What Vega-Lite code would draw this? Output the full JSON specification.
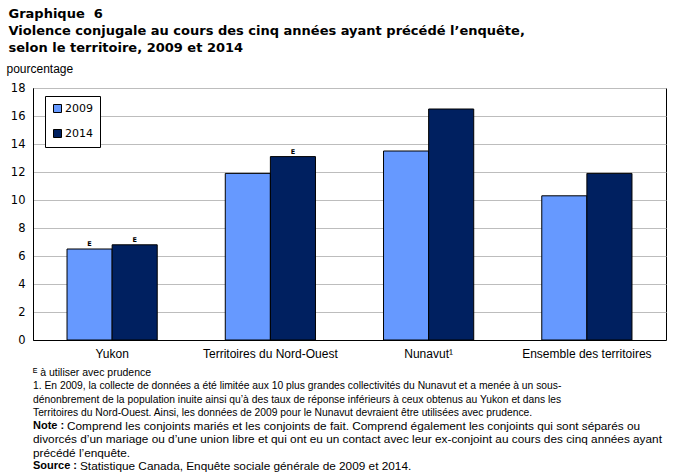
{
  "$schema": "https://vega.github.io/schema/vega-lite/v6.json",
  "background": "white",
  "padding": {"left": 5, "top": 7, "right": 5, "bottom": 2},
  "title": {
    "text": ["Graphique\u00a0 6", "Violence conjugale au cours des cinq années ayant précédé l’enquête,", "selon le territoire, 2009 et 2014"],
    "anchor": "start",
    "font": "DejaVu Sans",
    "fontSize": 13,
    "fontWeight": "bold",
    "color": "black",
    "lineHeight": 17,
    "offset": 7,
    "dx": 3
  },
  "spacing": 8,
  "vconcat": [
    {
      "width": 633,
      "height": 252,
      "view": {"stroke": "black", "strokeWidth": 1},
      "data": {
        "values": [
          {"territoire": "Yukon", "annee": "2009", "valeur": 6.5, "flag": "E"},
          {"territoire": "Yukon", "annee": "2014", "valeur": 6.8, "flag": "E"},
          {"territoire": "Territoires du Nord-Ouest", "annee": "2009", "valeur": 11.9, "flag": ""},
          {"territoire": "Territoires du Nord-Ouest", "annee": "2014", "valeur": 13.1, "flag": "E"},
          {"territoire": "Nunavut¹", "annee": "2009", "valeur": 13.5, "flag": ""},
          {"territoire": "Nunavut¹", "annee": "2014", "valeur": 16.5, "flag": ""},
          {"territoire": "Ensemble des territoires", "annee": "2009", "valeur": 10.3, "flag": ""},
          {"territoire": "Ensemble des territoires", "annee": "2014", "valeur": 11.9, "flag": ""}
        ]
      },
      "encoding": {
        "x": {
          "field": "territoire",
          "type": "nominal",
          "sort": ["Yukon", "Territoires du Nord-Ouest", "Nunavut¹", "Ensemble des territoires"],
          "scale": {"paddingInner": 0.43, "paddingOuter": 0.215},
          "axis": {
            "title": null,
            "labelAngle": 0,
            "ticks": false,
            "labelPadding": 8,
            "labelFont": "Liberation Sans",
            "labelFontSize": 12,
            "labelColor": "black",
            "domainColor": "black",
            "grid": false
          }
        },
        "xOffset": {"field": "annee", "type": "nominal", "scale": {"paddingInner": 0, "paddingOuter": 0}},
        "y": {
          "field": "valeur",
          "type": "quantitative",
          "scale": {"domain": [0, 18]},
          "axis": {
            "values": [0, 2, 4, 6, 8, 10, 12, 14, 16, 18],
            "title": "pourcentage",
            "titleAngle": 0,
            "titleAlign": "left",
            "titleBaseline": "middle",
            "titleX": -27,
            "titleY": -20,
            "titleFont": "Liberation Sans",
            "titleFontSize": 12,
            "titleFontWeight": "normal",
            "titleColor": "black",
            "ticks": false,
            "labelPadding": 8,
            "labelFont": "DejaVu Sans",
            "labelFontSize": 11.5,
            "labelColor": "black",
            "domainColor": "black",
            "grid": true,
            "gridColor": "#bdbdbd",
            "gridWidth": 1
          }
        }
      },
      "layer": [
        {
          "mark": {"type": "bar", "stroke": "black", "strokeWidth": 1},
          "encoding": {
            "color": {
              "field": "annee",
              "type": "nominal",
              "scale": {"domain": ["2009", "2014"], "range": ["#6699FF", "#002060"]},
              "legend": {
                "title": null,
                "orient": "none",
                "legendX": 12,
                "legendY": 8,
                "strokeColor": "black",
                "fillColor": "white",
                "padding": 7,
                "rowPadding": 12,
                "symbolType": "square",
                "symbolSize": 64,
                "symbolStrokeColor": "black",
                "symbolStrokeWidth": 1,
                "symbolOpacity": 1,
                "labelFont": "DejaVu Sans",
                "labelFontSize": 11,
                "labelColor": "black",
                "labelOffset": 2
              }
            }
          }
        },
        {
          "transform": [{"filter": "datum.flag != ''"}],
          "mark": {"type": "text", "font": "DejaVu Sans", "fontSize": 6.5, "fontWeight": "bold", "baseline": "bottom", "dy": -2, "color": "black"},
          "encoding": {"text": {"field": "flag"}}
        }
      ]
    },
    {
      "width": 600,
      "height": 93,
      "view": {"stroke": null},
      "data": {
        "values": [
          {"ligne": 1, "prefixe": "", "texte": "ᴱ à utiliser avec prudence"},
          {"ligne": 2, "prefixe": "", "texte": "1. En 2009, la collecte de données a été limitée aux 10 plus grandes collectivités du Nunavut et a menée à un sous-"},
          {"ligne": 3, "prefixe": "", "texte": "dénonbrement de la population inuite ainsi qu’à des taux de réponse inférieurs à ceux obtenus au Yukon et dans les"},
          {"ligne": 4, "prefixe": "", "texte": "Territoires du Nord-Ouest. Ainsi, les données de 2009 pour le Nunavut devraient être utilisées avec prudence."},
          {"ligne": 5, "prefixe": "Note :", "texte": "Comprend les conjoints mariés et les conjoints de fait. Comprend également les conjoints qui sont séparés ou"},
          {"ligne": 6, "prefixe": "", "texte": "divorcés d’un mariage ou d’une union libre et qui ont eu un contact avec leur ex-conjoint au cours des cinq années ayant"},
          {"ligne": 7, "prefixe": "", "texte": "précédé l’enquête."},
          {"ligne": 8, "prefixe": "Source :", "texte": "Statistique Canada, Enquête sociale générale de 2009 et 2014."}
        ]
      },
      "encoding": {
        "y": {"field": "ligne", "type": "ordinal", "scale": {"type": "point", "padding": 0}, "axis": null},
        "x": {"value": 0}
      },
      "layer": [
        {
          "transform": [{"filter": "datum.ligne == 1"}],
          "mark": {"type": "text", "align": "left", "baseline": "middle", "font": "Liberation Sans", "fontSize": 10.5, "color": "black"},
          "encoding": {"text": {"field": "texte"}}
        },
        {
          "transform": [{"filter": "datum.ligne >= 2 && datum.ligne <= 4"}],
          "mark": {"type": "text", "align": "left", "baseline": "middle", "font": "Liberation Sans", "fontSize": 10.3, "color": "black"},
          "encoding": {"text": {"field": "texte"}}
        },
        {
          "transform": [{"filter": "datum.ligne >= 5 && datum.prefixe == ''"}],
          "mark": {"type": "text", "align": "left", "baseline": "middle", "font": "Liberation Sans", "fontSize": 11.8, "color": "black"},
          "encoding": {"text": {"field": "texte"}}
        },
        {
          "transform": [{"filter": "datum.prefixe != ''"}],
          "mark": {"type": "text", "align": "left", "baseline": "middle", "font": "Liberation Sans", "fontSize": 11, "fontWeight": "bold", "color": "black"},
          "encoding": {"text": {"field": "prefixe"}}
        },
        {
          "transform": [{"filter": "datum.prefixe == 'Note :'"}],
          "mark": {"type": "text", "align": "left", "baseline": "middle", "font": "Liberation Sans", "fontSize": 11.8, "color": "black", "dx": 34},
          "encoding": {"text": {"field": "texte"}}
        },
        {
          "transform": [{"filter": "datum.prefixe == 'Source :'"}],
          "mark": {"type": "text", "align": "left", "baseline": "middle", "font": "Liberation Sans", "fontSize": 11.8, "color": "black", "dx": 47},
          "encoding": {"text": {"field": "texte"}}
        }
      ]
    }
  ]
}
